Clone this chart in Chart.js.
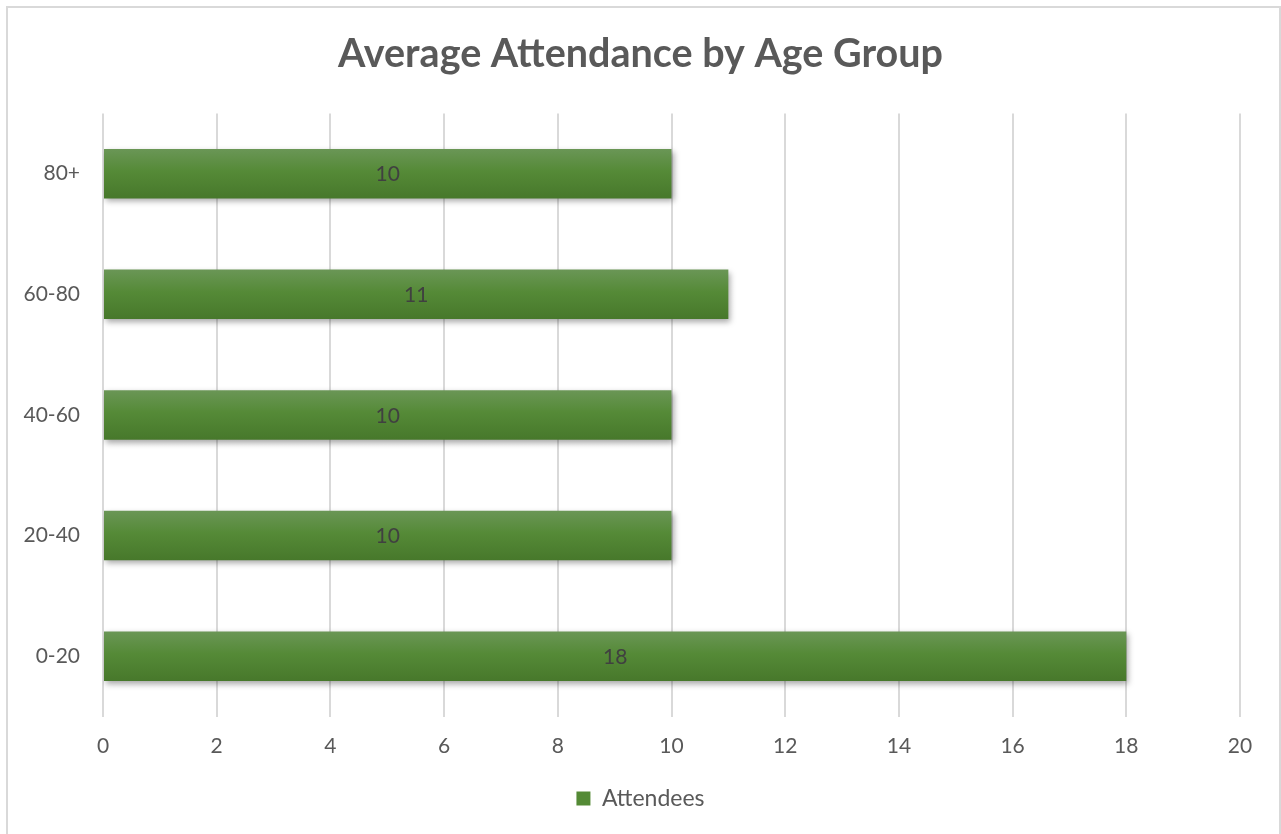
<!DOCTYPE html>
<html>
<head>
<meta charset="utf-8">
<script src="https://cdn.jsdelivr.net/npm/chart.js@4.4.1/dist/chart.umd.min.js"></script>
<style>
html,body{margin:0;padding:0;background:#fff;}
#wrap{width:1281px;height:834px;position:relative;}
</style>
</head>
<body>
<div id="wrap"><canvas id="c" width="1281" height="834"></canvas></div>
<script>
const categories = ["0-20", "20-40", "40-60", "60-80", "80+"];
const attendees = [18, 10, 10, 11, 10];
const xTicks = [0, 2, 4, 6, 8, 10, 12, 14, 16, 18, 20];
const seriesName = "Attendees";
const titleText = "Average Attendance by Age Group";

const FONT = "Lato, 'Open Sans', sans-serif";

const borderPlugin = {
  id: 'outerBorder',
  beforeDraw(chart) {
    const ctx = chart.ctx;
    ctx.save();
    ctx.fillStyle = '#ffffff';
    ctx.fillRect(0, 0, chart.width, chart.height);
    ctx.strokeStyle = '#d9d9d9';
    ctx.lineWidth = 2;
    ctx.strokeRect(7, 7, 1273, 840);
    ctx.restore();
  }
};

const barStyle = {
  id: 'barStyle',
  beforeDatasetsDraw(chart) {
    const ctx = chart.ctx;
    const meta = chart.getDatasetMeta(0);
    meta.data.forEach(el => {
      const top = el.y - el.height / 2;
      const bot = el.y + el.height / 2;
      const g = ctx.createLinearGradient(0, top, 0, bot);
      g.addColorStop(0, '#6a9656');
      g.addColorStop(0.45, '#558a37');
      g.addColorStop(1, '#47782b');
      el.options = Object.assign({}, el.options, { backgroundColor: g });
    });
    ctx.save();
    ctx.shadowColor = 'rgba(0,0,0,0.35)';
    ctx.shadowBlur = 6;
    ctx.shadowOffsetX = 2;
    ctx.shadowOffsetY = 3;
  },
  afterDatasetsDraw(chart) {
    chart.ctx.restore();
  },
  afterDraw(chart) {
    const ctx = chart.ctx;
    const meta = chart.getDatasetMeta(0);
    ctx.save();
    ctx.font = "21px " + FONT;
    ctx.fillStyle = '#404040';
    ctx.textAlign = 'center';
    ctx.textBaseline = 'middle';
    meta.data.forEach((el, i) => {
      const x0 = el.base, x1 = el.x;
      ctx.fillText(String(attendees[i]), (x0 + x1) / 2, el.y + 1);
    });
    ctx.restore();
  }
};

new Chart(document.getElementById('c'), {
  type: 'bar',
  data: {
    labels: categories,
    datasets: [{
      label: seriesName,
      data: attendees,
      backgroundColor: '#548a35',
      borderWidth: 0,
      categoryPercentage: 1,
      barPercentage: 0.41
    }]
  },
  options: {
    indexAxis: 'y',
    responsive: false,
    animation: false,
    devicePixelRatio: 1,
    layout: { padding: { left: 0, right: 0, top: 0, bottom: 14 } },
    plugins: {
      title: {
        display: true,
        text: titleText,
        color: '#595959',
        font: { family: FONT, size: 39.5, weight: 'bold', lineHeight: 1.2 },
        padding: { top: 31, bottom: 35 }
      },
      legend: {
        display: true,
        position: 'bottom',
        labels: {
          color: '#595959',
          font: { family: FONT, size: 23 },
          boxWidth: 14,
          boxHeight: 14,
          padding: 10,
          generateLabels(chart) {
            return [{ text: seriesName, fillStyle: '#548a35', strokeStyle: '#548a35', fontColor: '#595959', lineWidth: 0, datasetIndex: 0 }];
          }
        }
      },
      tooltip: { enabled: false }
    },
    scales: {
      x: {
        min: 0,
        max: 20,
        afterBuildTicks(scale) { scale.ticks = xTicks.map(v => ({ value: v })); },
        afterFit(scale) { scale.height = 60.5; },
        grid: { color: '#d9d9d9', lineWidth: 2, drawTicks: false },
        border: { display: false },
        ticks: { color: '#595959', font: { family: FONT, size: 21 }, padding: 17 }
      },
      y: {
        reverse: true,
        afterFit(scale) { scale.width = 103; },
        grid: { display: false },
        border: { display: false },
        ticks: { color: '#595959', font: { family: FONT, size: 21 }, padding: 15 }
      },
      yRight: {
        type: 'category',
        position: 'right',
        afterFit(scale) { scale.width = 41; },
        grid: { display: false },
        border: { display: false },
        ticks: { display: false }
      }
    }
  },
  plugins: [borderPlugin, barStyle]
});
</script>
</body>
</html>
